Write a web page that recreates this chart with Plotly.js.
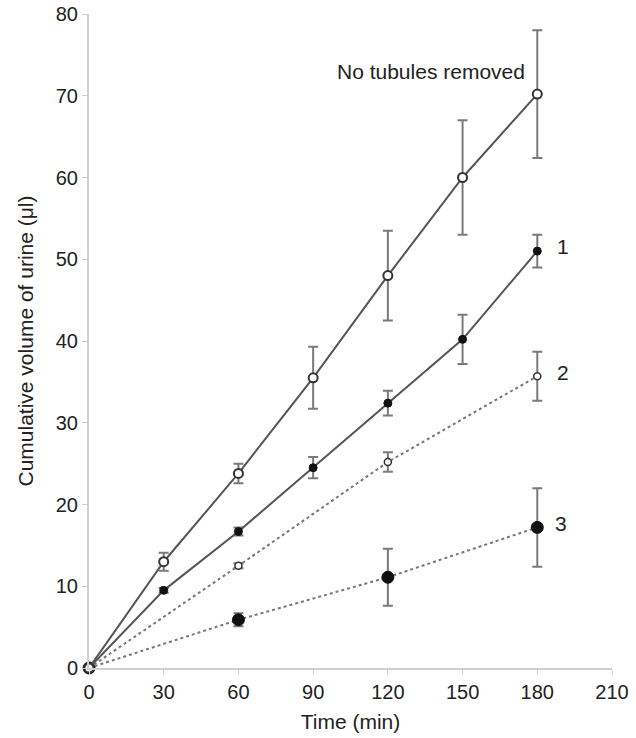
<!DOCTYPE html>
<html><head><meta charset="utf-8">
<script src="https://cdn.plot.ly/plotly-3.0.1.min.js"></script>
<style>html,body{margin:0;padding:0;background:#fff}#chart{width:636px;height:738px}</style>
</head><body><div id="chart"></div>
<script>
const timeA = [0, 30, 60, 90, 120, 150, 180];
const noRemoved = [0, 13, 23.8, 35.5, 48, 60, 70.2];
const noRemovedErr = [0, 1.1, 1.2, 3.8, 5.5, 7, 7.8];
const s1 = [0, 9.5, 16.7, 24.5, 32.4, 40.2, 51];
const s1Err = [0, 0.3, 0.5, 1.3, 1.5, 3, 2];
const timeB = [0, 60, 120, 180];
const s2 = [0, 12.5, 25.2, 35.7];
const s2Err = [0, 0.3, 1.2, 3];
const s3 = [0, 5.9, 11.1, 17.2];
const s3Err = [0, 0.8, 3.5, 4.8];
const xTicks = [0, 30, 60, 90, 120, 150, 180, 210];
const yTicks = [0, 10, 20, 30, 40, 50, 60, 70, 80];
const labels = [
  {x: 180, y: 73, text: 'No tubules removed', xanchor: 'right', xshift: -10},
  {x: 180, y: 51.5, text: '1', xanchor: 'left', xshift: 18},
  {x: 180, y: 36.2, text: '2', xanchor: 'left', xshift: 18},
  {x: 180, y: 17.7, text: '3', xanchor: 'left', xshift: 16}
];

const lineCol = '#555';
const errCol = '#7a7a7a';
function err(a){return {type:'data', array:a, visible:true, color:errCol, thickness:2, width:5};}
const traces = [
  {x: timeB, y: s3, error_y: err(s3Err), mode:'lines+markers', line:{color:'#777', width:2, dash:'dot'},
   marker:{symbol:'circle', size:12, color:'#111', line:{color:'#111', width:1}}, cliponaxis:false},
  {x: timeB, y: s2, error_y: err(s2Err), mode:'lines+markers', line:{color:'#777', width:2, dash:'dot'},
   marker:{symbol:'circle', size:7, color:'#fff', line:{color:'#333', width:1.5}}, cliponaxis:false},
  {x: timeA, y: s1, error_y: err(s1Err), mode:'lines+markers', line:{color:lineCol, width:2},
   marker:{symbol:'circle', size:8, color:'#111', line:{color:'#111', width:1}}, cliponaxis:false},
  {x: timeA, y: noRemoved, error_y: err(noRemovedErr), mode:'lines+markers', line:{color:lineCol, width:2},
   marker:{symbol:'circle', size:9, color:'#fff', line:{color:'#333', width:2}}, cliponaxis:false}
];

const axisCommon = {showgrid:false, zeroline:false, showline:true, linecolor:'#cfcfcf', linewidth:2,
  ticks:'outside', ticklen:5, tickcolor:'#cfcfcf', tickwidth:1, tickfont:{size:20, color:'#222'}};

const layout = {
  width:636, height:738, showlegend:false,
  paper_bgcolor:'#fff', plot_bgcolor:'#fff',
  font:{family:'Liberation Sans, Arial, sans-serif', color:'#222'},
  margin:{l:89, r:24, t:14, b:70},
  xaxis: Object.assign({}, axisCommon, {range:[0,210], tickvals:xTicks, ticktext:xTicks.map(String),
    title:{text:'Time (min)', font:{size:21}, standoff:12}}),
  yaxis: Object.assign({}, axisCommon, {range:[0,80], tickvals:yTicks, ticktext:yTicks.map(String),
    title:{text:'Cumulative volume of urine (μl)', font:{size:21}, standoff:16}}),
  annotations: labels.map(l => ({x:l.x, y:l.y, text:l.text, xanchor:l.xanchor, yanchor:'middle', xshift:l.xshift,
    showarrow:false, font:{size:21, color:'#222'}}))
};
Plotly.newPlot('chart', traces, layout, {displayModeBar:false, staticPlot:true});
</script></body></html>
